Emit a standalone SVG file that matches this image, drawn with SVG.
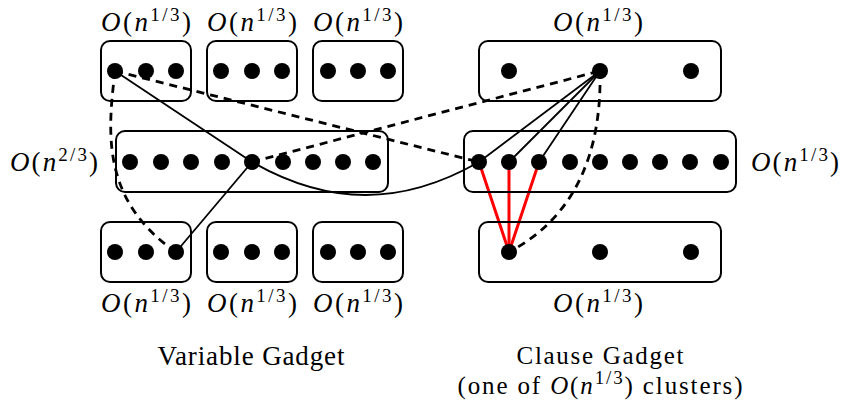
<svg xmlns="http://www.w3.org/2000/svg" width="841" height="408" viewBox="0 0 841 408">
<style>
.box{fill:none;stroke:#000;stroke-width:2}
.dot{fill:#000}
.e{fill:none;stroke:#000;stroke-width:1.8}
.d{fill:none;stroke:#000;stroke-width:2.8;stroke-dasharray:8 6}
.r{fill:none;stroke:#f00;stroke-width:3}
.t{font-family:'Liberation Serif','DejaVu Serif',serif;font-size:27px;fill:#000}
.i{font-style:italic}
.s{font-size:19px}
.c{font-size:25px}
</style>
<rect width="841" height="408" fill="#fff"/>
<g id="connectors">
<line class="e" x1="115" y1="71" x2="252" y2="162"/>
<line class="e" x1="252" y1="162" x2="176" y2="252"/>
<path class="e" d="M252,162 C329,206 402,206 479,162"/>
<line class="d" x1="115" y1="71" x2="479" y2="162"/>
<line class="d" x1="252" y1="162" x2="600" y2="71"/>
<path class="d" d="M115,71 C108,130 100,200 176,252"/>
<path class="d" d="M600,71 C602,160 570,220 509,252"/>
<line class="e" x1="600" y1="71" x2="479" y2="162"/>
<line class="e" x1="600" y1="71" x2="509" y2="162"/>
<line class="e" x1="600" y1="71" x2="539" y2="162"/>
<line class="r" x1="509" y1="252" x2="479" y2="162"/>
<line class="r" x1="509" y1="252" x2="509" y2="162"/>
<line class="r" x1="509" y1="252" x2="539" y2="162"/>
</g>
<g id="var-top-1"><rect class="box" x="101" y="41" width="90" height="60" rx="9"/><circle class="dot" cx="115" cy="71" r="8"/><circle class="dot" cx="146" cy="71" r="8"/><circle class="dot" cx="176" cy="71" r="8"/></g>
<g id="var-top-2"><rect class="box" x="207" y="41" width="90" height="60" rx="9"/><circle class="dot" cx="221" cy="71" r="8"/><circle class="dot" cx="252" cy="71" r="8"/><circle class="dot" cx="282" cy="71" r="8"/></g>
<g id="var-top-3"><rect class="box" x="313" y="41" width="90" height="60" rx="9"/><circle class="dot" cx="328" cy="71" r="8"/><circle class="dot" cx="358" cy="71" r="8"/><circle class="dot" cx="388" cy="71" r="8"/></g>
<g id="var-mid"><rect class="box" x="116" y="131" width="272" height="61" rx="9"/>
<circle class="dot" cx="130" cy="162" r="8"/><circle class="dot" cx="161" cy="162" r="8"/><circle class="dot" cx="191" cy="162" r="8"/><circle class="dot" cx="222" cy="162" r="8"/><circle class="dot" cx="252" cy="162" r="8"/><circle class="dot" cx="283" cy="162" r="8"/><circle class="dot" cx="313" cy="162" r="8"/><circle class="dot" cx="343" cy="162" r="8"/><circle class="dot" cx="373" cy="162" r="8"/></g>
<g id="var-bot-1"><rect class="box" x="101" y="222" width="90" height="60" rx="9"/><circle class="dot" cx="115" cy="252" r="8"/><circle class="dot" cx="146" cy="252" r="8"/><circle class="dot" cx="176" cy="252" r="8"/></g>
<g id="var-bot-2"><rect class="box" x="207" y="222" width="90" height="60" rx="9"/><circle class="dot" cx="221" cy="252" r="8"/><circle class="dot" cx="252" cy="252" r="8"/><circle class="dot" cx="282" cy="252" r="8"/></g>
<g id="var-bot-3"><rect class="box" x="313" y="222" width="90" height="60" rx="9"/><circle class="dot" cx="328" cy="252" r="8"/><circle class="dot" cx="358" cy="252" r="8"/><circle class="dot" cx="388" cy="252" r="8"/></g>
<g id="cl-top"><rect class="box" x="479" y="41" width="242" height="60" rx="9"/><circle class="dot" cx="509" cy="71" r="8"/><circle class="dot" cx="600" cy="71" r="8"/><circle class="dot" cx="691" cy="71" r="8"/></g>
<g id="cl-mid"><rect class="box" x="464" y="131" width="272" height="61" rx="9"/>
<circle class="dot" cx="479" cy="162" r="8"/><circle class="dot" cx="509" cy="162" r="8"/><circle class="dot" cx="539" cy="162" r="8"/><circle class="dot" cx="570" cy="162" r="8"/><circle class="dot" cx="600" cy="162" r="8"/><circle class="dot" cx="630" cy="162" r="8"/><circle class="dot" cx="660" cy="162" r="8"/><circle class="dot" cx="690" cy="162" r="8"/><circle class="dot" cx="721" cy="162" r="8"/></g>
<g id="cl-bot"><rect class="box" x="479" y="222" width="242" height="60" rx="9"/><circle class="dot" cx="509" cy="252" r="8"/><circle class="dot" cx="600" cy="252" r="8"/><circle class="dot" cx="691" cy="252" r="8"/></g>
<g id="labels" class="t">
<text x="146" y="31" text-anchor="middle" textLength="90"><tspan class="i">O</tspan>(<tspan class="i">n</tspan><tspan class="s" dy="-10">1/3</tspan><tspan dy="10">)</tspan></text>
<text x="252" y="31" text-anchor="middle" textLength="90"><tspan class="i">O</tspan>(<tspan class="i">n</tspan><tspan class="s" dy="-10">1/3</tspan><tspan dy="10">)</tspan></text>
<text x="358" y="31" text-anchor="middle" textLength="90"><tspan class="i">O</tspan>(<tspan class="i">n</tspan><tspan class="s" dy="-10">1/3</tspan><tspan dy="10">)</tspan></text>
<text x="598" y="31" text-anchor="middle" textLength="90"><tspan class="i">O</tspan>(<tspan class="i">n</tspan><tspan class="s" dy="-10">1/3</tspan><tspan dy="10">)</tspan></text>
<text x="54" y="171" text-anchor="middle" textLength="88"><tspan class="i">O</tspan>(<tspan class="i">n</tspan><tspan class="s" dy="-10">2/3</tspan><tspan dy="10">)</tspan></text>
<text x="795" y="171" text-anchor="middle" textLength="88"><tspan class="i">O</tspan>(<tspan class="i">n</tspan><tspan class="s" dy="-10">1/3</tspan><tspan dy="10">)</tspan></text>
<text x="146" y="312" text-anchor="middle" textLength="90"><tspan class="i">O</tspan>(<tspan class="i">n</tspan><tspan class="s" dy="-10">1/3</tspan><tspan dy="10">)</tspan></text>
<text x="252" y="312" text-anchor="middle" textLength="90"><tspan class="i">O</tspan>(<tspan class="i">n</tspan><tspan class="s" dy="-10">1/3</tspan><tspan dy="10">)</tspan></text>
<text x="358" y="312" text-anchor="middle" textLength="90"><tspan class="i">O</tspan>(<tspan class="i">n</tspan><tspan class="s" dy="-10">1/3</tspan><tspan dy="10">)</tspan></text>
<text x="598" y="312" text-anchor="middle" textLength="90"><tspan class="i">O</tspan>(<tspan class="i">n</tspan><tspan class="s" dy="-10">1/3</tspan><tspan dy="10">)</tspan></text>
<text x="251" y="365" text-anchor="middle" textLength="187">Variable Gadget</text>
<text class="c" x="600" y="364" text-anchor="middle" textLength="167">Clause Gadget</text>
<text class="c" x="600" y="394" text-anchor="middle" textLength="285">(one of <tspan class="i">O</tspan>(<tspan class="i">n</tspan><tspan class="s" dy="-10">1/3</tspan><tspan dy="10">) clusters)</tspan></text>
</g>
</svg>
